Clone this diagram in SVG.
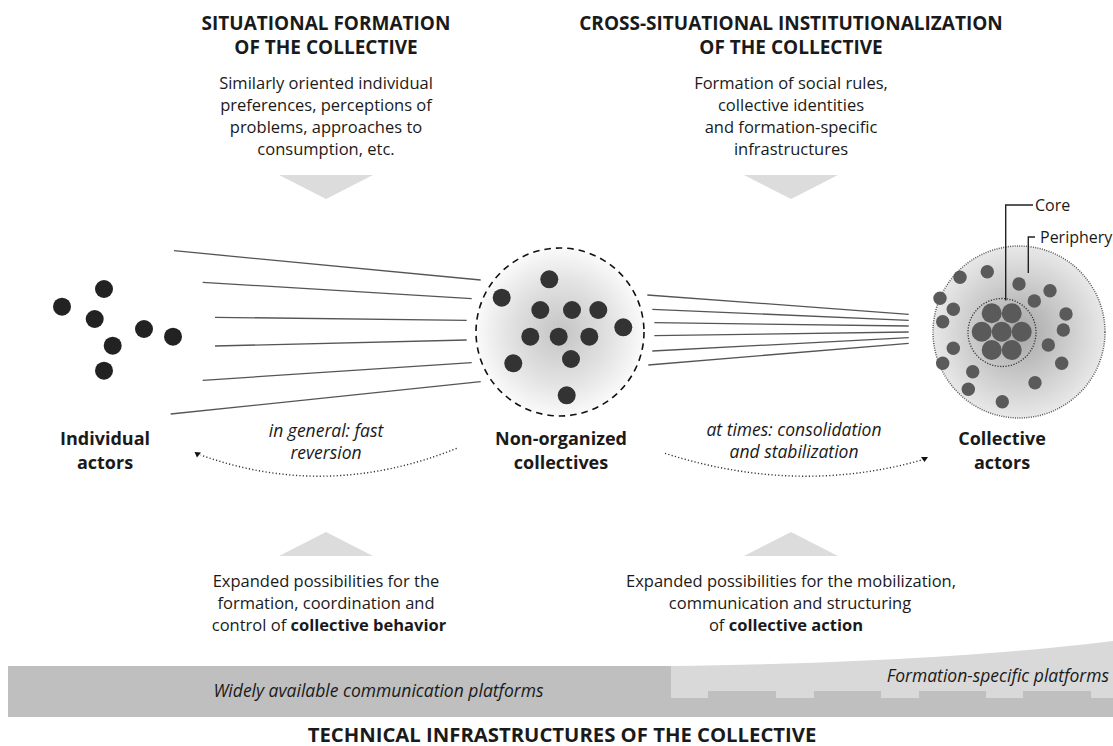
<svg xmlns="http://www.w3.org/2000/svg" width="1113" height="746" viewBox="0 0 1113 746">
<defs>
<radialGradient id="gMid" cx="0.5" cy="0.5" r="0.5">
<stop offset="0" stop-color="#c4c4c4"/>
<stop offset="0.6" stop-color="#e2e2e2"/>
<stop offset="1" stop-color="#fafafa"/>
</radialGradient>
<radialGradient id="gRight" cx="0.5" cy="0.5" r="0.5">
<stop offset="0" stop-color="#a6a6a6"/>
<stop offset="0.45" stop-color="#c4c4c4"/>
<stop offset="1" stop-color="#e8e8e8"/>
</radialGradient>
<style>
text{font-family:"Open Sans","Noto Sans","Liberation Sans",sans-serif;fill:#1a1a1a}
.h{font-size:19px;font-weight:bold;text-anchor:middle}
.b{font-size:16.5px;text-anchor:middle}
.i{font-size:17.5px;font-style:italic;text-anchor:middle}
.lab{font-size:18px;font-weight:bold;text-anchor:middle}
.sm{font-size:16px}
.ln{stroke:#555;stroke-width:1.3;fill:none}
.dk{fill:#222}
.md{fill:#333}
.pd{fill:#5a5a5a}
.tri{fill:#dcdcdc}
.dot{fill:none;stroke:#333;stroke-width:1.4;stroke-dasharray:1.2 2.2}
</style>
</defs>

<g id="top-left-text">
<text class="h" x="326" y="30">SITUATIONAL FORMATION</text>
<text class="h" x="326" y="54">OF THE COLLECTIVE</text>
<text class="b" x="326" y="89">Similarly oriented individual</text>
<text class="b" x="326" y="111">preferences, perceptions of</text>
<text class="b" x="326" y="133">problems, approaches to</text>
<text class="b" x="326" y="155">consumption, etc.</text>
<polygon class="tri" points="279,175 373,175 326,199"/>
</g>

<g id="top-right-text">
<text class="h" x="791" y="30">CROSS-SITUATIONAL INSTITUTIONALIZATION</text>
<text class="h" x="791" y="54">OF THE COLLECTIVE</text>
<text class="b" x="791" y="89">Formation of social rules,</text>
<text class="b" x="791" y="111">collective identities</text>
<text class="b" x="791" y="133">and formation-specific</text>
<text class="b" x="791" y="155">infrastructures</text>
<polygon class="tri" points="744,175 838,175 791,199"/>
</g>

<g id="connectors">
<line class="ln" x1="174" y1="250.7" x2="480.7" y2="280"/>
<line class="ln" x1="202.7" y1="282.3" x2="471.7" y2="298.7"/>
<line class="ln" x1="215" y1="317.3" x2="466.7" y2="320.3"/>
<line class="ln" x1="215" y1="346" x2="466.7" y2="340"/>
<line class="ln" x1="202.7" y1="380.3" x2="471.7" y2="362.7"/>
<line class="ln" x1="170.7" y1="414" x2="480.7" y2="381.7"/>
<line class="ln" x1="647.3" y1="295" x2="908.7" y2="314.3"/>
<line class="ln" x1="652.3" y1="309.3" x2="908.7" y2="320.3"/>
<line class="ln" x1="654.3" y1="322.7" x2="908.7" y2="326"/>
<line class="ln" x1="654.3" y1="335.7" x2="908.7" y2="332"/>
<line class="ln" x1="652.3" y1="351" x2="908.7" y2="337.7"/>
<line class="ln" x1="648.3" y1="365" x2="908.7" y2="343.3"/>
<path class="dot" d="M456.7,448.3 Q327,500.5 200.7,455"/>
<polygon fill="#111" points="194.5,452 201,452.5 197,457.5"/>
<path class="dot" d="M665,453.3 Q796.5,495.5 921.7,460"/>
<polygon fill="#111" points="921,457 928,457 924.5,462"/>
<text class="i" x="326" y="437">in general: fast</text>
<text class="i" x="326" y="459">reversion</text>
<text class="i" x="794" y="436">at times: consolidation</text>
<text class="i" x="794" y="458">and stabilization</text>
</g>

<g id="individual-actors">
<circle class="dk" cx="62" cy="306.7" r="9"/>
<circle class="dk" cx="104" cy="289" r="9"/>
<circle class="dk" cx="94.7" cy="319" r="9"/>
<circle class="dk" cx="144" cy="329" r="9"/>
<circle class="dk" cx="173" cy="336.7" r="9"/>
<circle class="dk" cx="112.7" cy="345.7" r="9"/>
<circle class="dk" cx="104" cy="370.7" r="9"/>
<text class="lab" x="105" y="445">Individual</text>
<text class="lab" x="105" y="469">actors</text>
</g>

<g id="non-organized-collectives">
<circle cx="560" cy="332" r="84" fill="url(#gMid)" stroke="#111" stroke-width="1.6" stroke-dasharray="6.5 5"/>
<circle class="md" cx="549.3" cy="279.3" r="9"/>
<circle class="md" cx="501.7" cy="297.7" r="9"/>
<circle class="md" cx="540.3" cy="310" r="9"/>
<circle class="md" cx="572" cy="310" r="9"/>
<circle class="md" cx="598.3" cy="310" r="9"/>
<circle class="md" cx="623.3" cy="327.3" r="9"/>
<circle class="md" cx="530.3" cy="336.7" r="9"/>
<circle class="md" cx="558.7" cy="336.7" r="9"/>
<circle class="md" cx="589.3" cy="336.7" r="9"/>
<circle class="md" cx="571" cy="359" r="9"/>
<circle class="md" cx="513.3" cy="363.3" r="9"/>
<circle class="md" cx="566.7" cy="395.3" r="9"/>
<text class="lab" x="561" y="445">Non-organized</text>
<text class="lab" x="561" y="469">collectives</text>
</g>

<g id="collective-actors">
<circle cx="1019" cy="332" r="86" fill="url(#gRight)" stroke="#555" stroke-width="1.5" stroke-dasharray="1 1.3"/>
<circle cx="1002" cy="332.5" r="34" fill="none" stroke="#333" stroke-width="1.3" stroke-dasharray="1.2 1.5"/>
<circle class="pd" cx="991.7" cy="313.3" r="10"/>
<circle class="pd" cx="1011.7" cy="313.3" r="10"/>
<circle class="pd" cx="981.7" cy="331.7" r="10"/>
<circle class="pd" cx="1001.7" cy="331.7" r="10"/>
<circle class="pd" cx="1021.7" cy="331.7" r="10"/>
<circle class="pd" cx="991.7" cy="350" r="10"/>
<circle class="pd" cx="1011.7" cy="350" r="10"/>
<circle class="pd" cx="987.3" cy="271.7" r="6.7"/>
<circle class="pd" cx="960" cy="277.3" r="6.7"/>
<circle class="pd" cx="1019" cy="284" r="6.7"/>
<circle class="pd" cx="1050" cy="290.7" r="6.7"/>
<circle class="pd" cx="940" cy="298.3" r="6.7"/>
<circle class="pd" cx="1034.3" cy="301" r="6.7"/>
<circle class="pd" cx="953.3" cy="309.3" r="6.7"/>
<circle class="pd" cx="1066" cy="314" r="6.7"/>
<circle class="pd" cx="942.7" cy="321.7" r="6.7"/>
<circle class="pd" cx="1063.3" cy="330" r="6.7"/>
<circle class="pd" cx="953.3" cy="348.3" r="6.7"/>
<circle class="pd" cx="1048.3" cy="345" r="6.7"/>
<circle class="pd" cx="942.7" cy="363.3" r="6.7"/>
<circle class="pd" cx="1061.7" cy="363.3" r="6.7"/>
<circle class="pd" cx="972.7" cy="371.7" r="6.7"/>
<circle class="pd" cx="1035" cy="382.7" r="6.7"/>
<circle class="pd" cx="968.3" cy="389.3" r="6.7"/>
<circle class="pd" cx="1002.3" cy="401.7" r="6.7"/>
<path d="M1005.7,300.5 V205 H1033" fill="none" stroke="#222" stroke-width="1.4"/>
<path d="M1035,237 H1028.3 V273" fill="none" stroke="#222" stroke-width="1.4"/>
<text class="sm" x="1035" y="211">Core</text>
<text class="sm" x="1040" y="243">Periphery</text>
<text class="lab" x="1002" y="445">Collective</text>
<text class="lab" x="1002" y="469">actors</text>
</g>

<g id="bottom-left-text">
<polygon class="tri" points="279,556 373,556 326,532"/>
<text class="b" x="326" y="587">Expanded possibilities for the</text>
<text class="b" x="326" y="609">formation, coordination and</text>
<text class="b" x="329" y="631">control of <tspan font-weight="bold">collective behavior</tspan></text>
</g>

<g id="bottom-right-text">
<polygon class="tri" points="744,556 838,556 791,532"/>
<text class="b" x="791" y="587">Expanded possibilities for the mobilization,</text>
<text class="b" x="790" y="609">communication and structuring</text>
<text class="b" x="786" y="631">of <tspan font-weight="bold">collective action</tspan></text>
</g>

<g id="infrastructure">
<rect x="8" y="666" width="1105" height="51" fill="#bfbfbf"/>
<path d="M671,666 C850,664 1000,655 1113,641 V717 H671 Z" fill="#d9d9d9"/>
<path d="M671,698 H708 V691 H776 V698 H814 V691 H881 V698 H919 V691 H986 V698 H1023 V691 H1091 V698 H1113 V717 H671 Z" fill="#bfbfbf"/>
<text class="i" x="378.5" y="697">Widely available communication platforms</text>
<text class="i" x="1109" y="682" style="text-anchor:end">Formation-specific platforms</text>
<text class="h" x="562" y="742" style="font-size:20.3px">TECHNICAL INFRASTRUCTURES OF THE COLLECTIVE</text>
</g>
</svg>
